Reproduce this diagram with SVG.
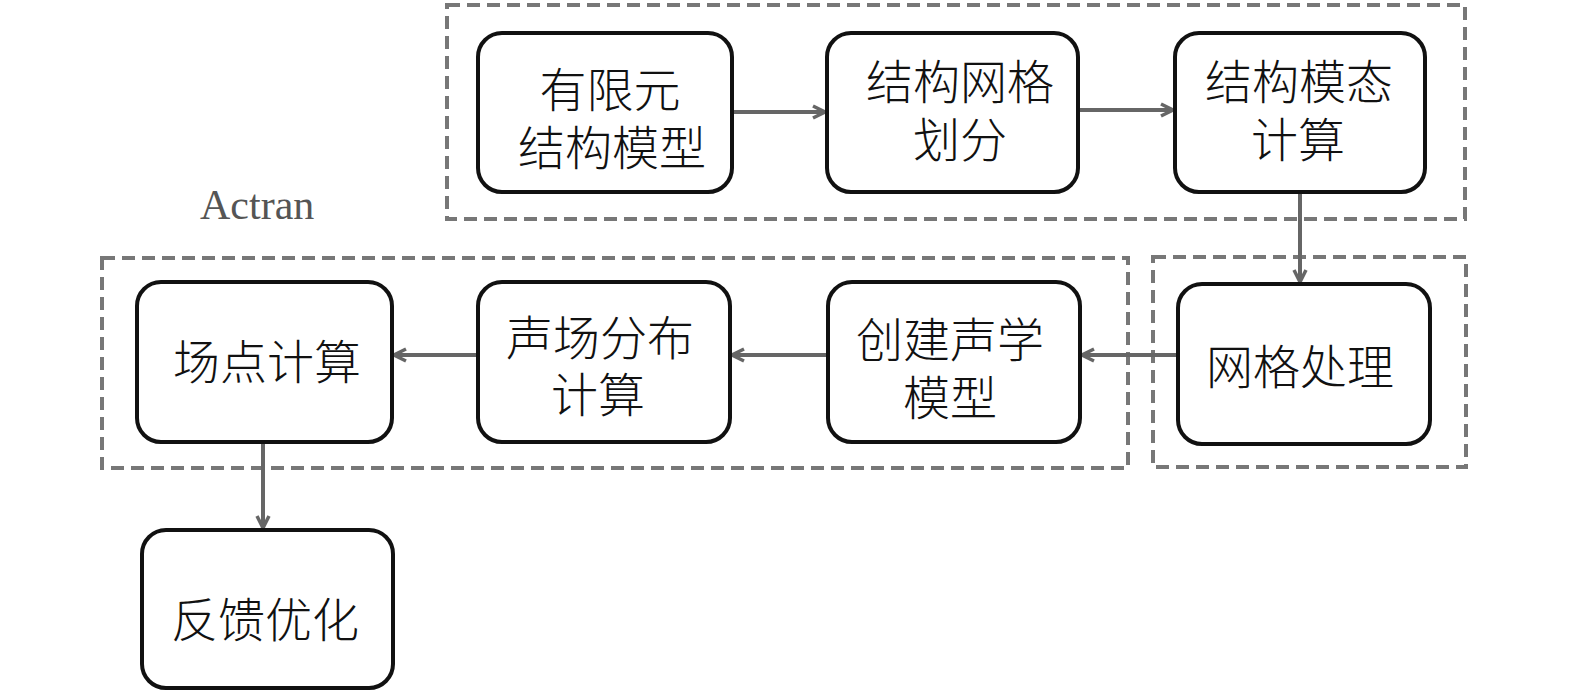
<svg xmlns="http://www.w3.org/2000/svg" width="1575" height="694" viewBox="0 0 1575 694">
<defs>
<style>
.grp{fill:none;stroke:#777;stroke-width:4;stroke-dasharray:13 7}
.node rect{fill:#fff;stroke:#111;stroke-width:4}
.node text{font-family:"Noto Sans CJK SC","Noto Sans CJK TC",sans-serif;font-size:47px;font-weight:300;fill:#111;text-anchor:middle}
.conn line{stroke:#666;stroke-width:4;fill:none}
.lbl{font-family:"Liberation Serif",serif;font-size:42px;fill:#555}
</style>
<marker id="ah" viewBox="0 0 16 16" refX="14" refY="8" markerWidth="16" markerHeight="16" markerUnits="userSpaceOnUse" orient="auto">
<path d="M2,2 L14,8 L2,14" fill="none" stroke="#666" stroke-width="3.5"/>
</marker>
</defs>
<rect width="1575" height="694" fill="#fff"/>
<g id="groups">
<rect class="grp" x="447" y="5" width="1018" height="214"/>
<rect class="grp" x="102" y="258" width="1026" height="210"/>
<rect class="grp" x="1153" y="257" width="313" height="210"/>
<text class="lbl" x="200" y="219">Actran</text>
</g>
<g class="conn" id="connectors">
<line x1="732" y1="112" x2="825" y2="112" marker-end="url(#ah)"/>
<line x1="1078" y1="110" x2="1173" y2="110" marker-end="url(#ah)"/>
<line x1="1300" y1="192" x2="1300" y2="282" marker-end="url(#ah)"/>
<line x1="1178" y1="355" x2="1082" y2="355" marker-end="url(#ah)"/>
<line x1="828" y1="355" x2="732" y2="355" marker-end="url(#ah)"/>
<line x1="478" y1="355" x2="394" y2="355" marker-end="url(#ah)"/>
<line x1="263" y1="442" x2="263" y2="528" marker-end="url(#ah)"/>
</g>
<g class="node" id="n1"><rect x="478" y="33" width="254" height="159" rx="24"/><text x="610" y="107">有限元<tspan x="612" dy="58">结构模型</tspan></text></g>
<g class="node" id="n2"><rect x="827" y="33" width="251" height="159" rx="24"/><text x="960" y="99">结构网格<tspan x="960" dy="58">划分</tspan></text></g>
<g class="node" id="n3"><rect x="1175" y="33" width="250" height="159" rx="24"/><text x="1299" y="99">结构模态<tspan x="1298" dy="58">计算</tspan></text></g>
<g class="node" id="n4"><rect x="1178" y="284" width="252" height="160" rx="24"/><text x="1300" y="384">网格处理</text></g>
<g class="node" id="n5"><rect x="828" y="282" width="252" height="160" rx="24"/><text x="950" y="357">创建声学<tspan x="950" dy="58">模型</tspan></text></g>
<g class="node" id="n6"><rect x="478" y="282" width="252" height="160" rx="24"/><text x="600" y="355">声场分布<tspan x="598" dy="57">计算</tspan></text></g>
<g class="node" id="n7"><rect x="137" y="282" width="255" height="160" rx="24"/><text x="267" y="379">场点计算</text></g>
<g class="node" id="n8"><rect x="142" y="530" width="251" height="158" rx="24"/><text x="265" y="637">反馈优化</text></g>
</svg>
